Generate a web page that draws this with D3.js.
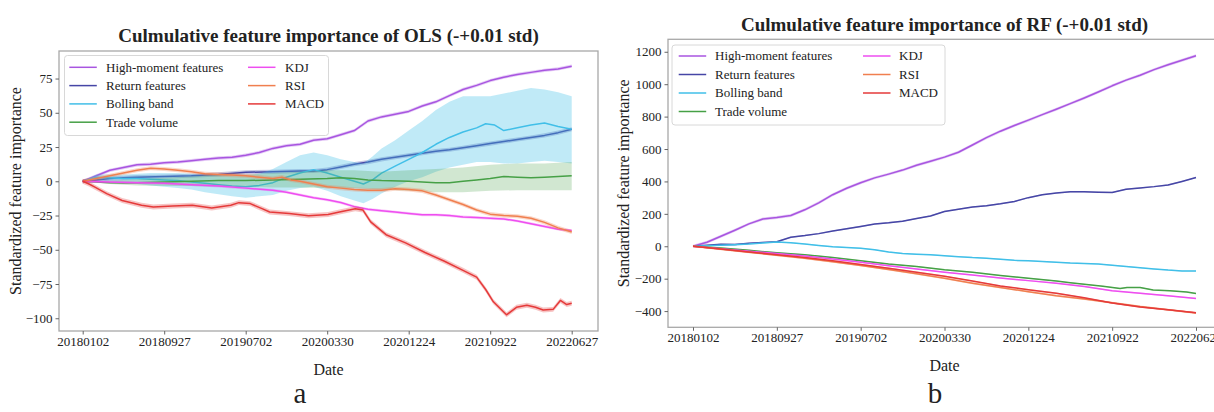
<!DOCTYPE html>
<html>
<head>
<meta charset="utf-8">
<script src="https://cdn.jsdelivr.net/npm/d3@7"></script>
<style>
  body { margin: 0; background: #fff; }
  svg { display: block; }
  text { font-family: "Liberation Serif", "Times New Roman", serif; fill: #222; }
</style>
</head>
<body>
<svg id="chart" width="1214" height="412"></svg>
<script>
// ---- shared axis / legend content ----
const dateTicks = ["20180102", "20180927", "20190702", "20200330", "20201224", "20210922", "20220627"];
const tickDay = [0, 180, 360, 540, 720, 900, 1080];   // trading-day index of each date tick
const seriesNames = ["High-moment features", "Return features", "Bolling band", "Trade volume", "KDJ", "RSI", "MACD"];
const seriesColors = ["#a855e0", "#4646a6", "#41bfe8", "#46a046", "#ee4ef0", "#f07f4f", "#e53a3a"];
const olsTicks = [-100, -75, -50, -25, 0, 25, 50, 75];
const rfTicks = [-400, -200, 0, 200, 400, 600, 800, 1000, 1200];

// ---- OLS cumulative importance: [day index, value] ----
const olsHighMoment = [[0,0],[30,4],[60,8],[90,10],[120,12],[150,12.5],[180,13.5],[210,14],[240,15],[270,16],[300,17],[330,17.5],[360,19],[390,21],[420,24],[450,26],[480,27],[510,30],[540,31],[570,34],[600,37],[630,44],[660,47],[690,49],[720,51],[750,55],[780,58],[810,62.5],[840,67],[870,70],[900,73.5],[930,76],[960,78],[990,79.5],[1020,81],[1050,82],[1080,84]];
const olsReturn = [[0,0],[30,1],[60,2],[90,2.5],[120,3],[180,3.5],[240,4],[300,5],[360,6.5],[420,7],[480,7.5],[510,7.5],[540,8.5],[570,10.5],[600,12.5],[630,14],[660,16],[690,17.5],[720,19],[750,20.5],[780,22],[810,23],[840,24.5],[870,26],[900,27.5],[930,29],[960,30.5],[990,32],[1020,33.5],[1050,35.5],[1080,38]];
const olsBolling = [[0,0],[30,3],[60,2.5],[90,2],[120,2],[150,1.5],[180,1],[210,0.5],[240,-0.5],[270,-1.5],[300,-2.5],[330,-3.5],[360,-4],[390,-3],[420,-1],[450,3],[480,6],[510,8.5],[540,6],[570,3],[600,0],[620,-2],[640,1],[660,6],[690,11],[720,16],[750,21],[780,27],[810,32],[840,36],[870,39],[890,42],[910,41],[930,37],[960,39],[990,41],[1020,42.5],[1050,40],[1080,38]];
const olsTrade = [[0,0],[30,-0.5],[60,-1],[90,-1.2],[120,-1],[180,-0.5],[240,0],[300,0.5],[360,0.5],[420,1],[480,1.5],[540,2],[570,2.5],[600,2],[630,1],[660,0.5],[720,0],[780,-1],[810,-1],[840,0],[870,1],[900,2],[930,3.5],[960,3],[990,2.5],[1020,3],[1050,3.5],[1080,4]];
const olsKDJ = [[0,0],[60,-0.5],[120,-1],[180,-1.5],[240,-2.5],[300,-3.5],[360,-5],[420,-6.5],[450,-8],[480,-10],[510,-12],[540,-13.5],[570,-15.5],[600,-18.5],[630,-20.5],[660,-21.5],[690,-22.5],[720,-23.5],[750,-24.5],[780,-24.5],[810,-25],[840,-26],[870,-26.5],[900,-27],[930,-27.5],[960,-29],[990,-31],[1020,-33],[1050,-35],[1080,-36]];
const olsRSI = [[0,0],[30,2],[60,4],[90,6],[120,8],[150,9.5],[180,9],[210,8],[240,7],[270,5.5],[300,5],[330,4.5],[360,4],[390,3],[420,2],[440,3],[460,1],[480,0],[510,-2],[540,-4],[570,-5],[600,-6],[630,-6.5],[660,-6.5],[690,-5.5],[720,-6],[750,-7],[780,-10],[810,-13.5],[840,-17],[870,-21],[900,-24],[930,-25],[960,-25.5],[990,-27],[1020,-30],[1050,-34],[1080,-37]];
const olsMACD = [[0,0],[14,-2],[27,-4.3],[53,-9],[87,-14],[130,-17.5],[156,-18.8],[199,-18],[242,-17.5],[285,-19.5],[327,-17.5],[345,-15.6],[370,-16.3],[396,-20],[413,-22.4],[456,-23.6],[499,-25.2],[542,-24.3],[567,-22.4],[602,-20],[619,-21],[636,-29.6],[670,-39],[713,-45],[756,-52],[799,-58.4],[840,-65],[870,-70],[890,-79],[907,-88],[936,-97.5],[958,-92],[981,-90.5],[1000,-92],[1017,-94],[1039,-93.5],[1055,-87],[1069,-90],[1080,-89]];
// wide std bands: [day index, lower, upper]
const olsBollingBand = [[0,0,0],[30,1,5],[60,0,5],[90,-1,5],[120,-2,5.5],[150,-3,6],[180,-4,6],[210,-5,6],[240,-6,5.5],[270,-8,5],[300,-9.5,4.5],[330,-11,4],[360,-12,4],[390,-11,5.5],[420,-10,9],[450,-7,14],[480,-5,19],[510,-4,21],[540,-7,19],[570,-11,16],[600,-14,14],[620,-16,13],[640,-13,18],[660,-9,24],[690,-4,30],[720,0,37],[750,3,44],[780,7,52],[810,10,58],[840,12,62],[870,14,62],[900,14,62],[930,13,64],[960,13,66],[990,14,68],[1020,15,67],[1050,14,65],[1080,13,62]];
const olsTradeBand = [[0,0,0],[60,-2,0.5],[120,-3,1.5],[180,-3.5,2.5],[240,-3.5,3.5],[300,-4,5],[360,-4,5],[420,-4.5,6],[480,-4.5,7],[540,-5,8],[600,-5,8],[660,-6,7],[720,-7,8],[780,-8,9],[840,-8,10],[900,-7,12],[960,-6.5,13],[1020,-6.5,13],[1080,-6.5,14]];
const olsBandHalf = [1.2, 1.5, 0, 0, 1.0, 1.5, 1.8];

// ---- RF cumulative importance: [day index, value] ----
const rfHighMoment = [[0,0],[30,25],[60,62],[90,99],[120,138],[150,168],[180,178],[210,190],[240,225],[270,268],[300,318],[330,358],[360,392],[390,422],[420,445],[450,470],[480,500],[510,525],[540,550],[570,580],[600,625],[630,670],[660,710],[690,745],[720,778],[750,812],[780,845],[810,880],[840,915],[870,952],[900,990],[930,1025],[960,1055],[990,1090],[1020,1120],[1050,1148],[1080,1175]];
const rfReturn = [[0,0],[30,6],[60,12],[90,11],[120,18],[150,24],[180,28],[210,56],[240,66],[270,78],[300,94],[330,108],[360,122],[390,137],[420,145],[450,155],[480,171],[510,187],[540,215],[570,229],[600,242],[630,250],[660,262],[690,276],[720,300],[750,318],[780,328],[810,336],[840,336],[870,334],[900,332],[930,352],[960,360],[990,368],[1020,378],[1050,400],[1080,424]];
const rfBolling = [[0,0],[30,3],[60,6],[90,10],[120,14],[150,20],[180,27],[210,22],[240,14],[270,5],[300,-3],[330,-8],[360,-12],[390,-22],[420,-35],[450,-45],[480,-49],[510,-53],[540,-58],[570,-64],[600,-70],[630,-74],[660,-80],[690,-87],[720,-90],[750,-94],[780,-98],[810,-103],[840,-106],[870,-110],[900,-117],[930,-125],[960,-132],[990,-140],[1020,-147],[1050,-152],[1080,-152]];
const rfTrade = [[0,0],[60,-10],[120,-25],[180,-40],[240,-52],[300,-70],[360,-90],[420,-110],[480,-125],[540,-145],[600,-160],[660,-180],[720,-197],[780,-215],[810,-225],[840,-235],[880,-246],[917,-260],[932,-254],[960,-255],[988,-270],[1024,-275],[1060,-282],[1080,-291]];
const rfKDJ = [[0,0],[60,-15],[120,-30],[180,-45],[240,-60],[300,-78],[360,-98],[420,-120],[480,-140],[540,-160],[600,-178],[660,-196],[720,-212],[780,-228],[840,-248],[900,-275],[960,-290],[1020,-306],[1080,-322]];
const rfRSI = [[0,0],[60,-18],[120,-37],[180,-55],[240,-74],[300,-95],[360,-118],[420,-143],[480,-170],[540,-198],[600,-228],[660,-255],[720,-280],[780,-305],[840,-325],[900,-348],[960,-372],[1020,-392],[1080,-412]];
const rfMACD = [[0,0],[60,-17],[120,-35],[180,-52],[240,-70],[300,-90],[360,-112],[420,-135],[480,-160],[540,-185],[600,-215],[660,-245],[720,-268],[780,-290],[840,-318],[900,-350],[960,-375],[1020,-392],[1080,-410]];
const rfBandHalf = [9, 4, 3, 3, 4, 6, 4];

const bandAlpha = [0.3, 0.3, 0.33, 0.25, 0.3, 0.3, 0.3];
const serif = "'Liberation Serif', 'Times New Roman', serif";

const svg = d3.select("#chart");
svg.append("rect").attr("width", 1214).attr("height", 412).attr("fill", "#fff");

function drawPanel(p) {
  const g = svg.append("g");
  const x = d3.scaleLinear().domain([0, 1080]).range(p.xRange);
  const y = d3.scaleLinear().domain(p.yDomain).range([p.frame.bottom, p.frame.top]);

  // std bands and mean curves
  p.curves.forEach((c, i) => {
    const col = seriesColors[i];
    const band = p.bands[i] || c.map(([d, v]) => [d, v - p.half[i], v + p.half[i]]);
    g.append("path")
      .attr("d", d3.area().x(d => x(d[0])).y0(d => y(d[1])).y1(d => y(d[2]))(band))
      .attr("fill", col).attr("fill-opacity", bandAlpha[i]).attr("stroke", "none");
    g.append("path")
      .attr("d", d3.line().x(d => x(d[0])).y(d => y(d[1]))(c))
      .attr("fill", "none").attr("stroke", col).attr("stroke-width", 1.5)
      .attr("stroke-linejoin", "round");
  });

  // frame
  g.append("rect")
    .attr("x", p.frame.left).attr("y", p.frame.top)
    .attr("width", p.frame.right - p.frame.left).attr("height", p.frame.bottom - p.frame.top)
    .attr("fill", "none").attr("stroke", "#a8a8a8").attr("stroke-width", 1.3);

  // axes
  const yAxis = g.append("g").attr("transform", `translate(${p.frame.left},0)`)
    .call(d3.axisLeft(y).tickValues(p.yTicks).tickFormat(d3.format("d")).tickSize(3.5).tickPadding(3));
  const xAxis = g.append("g").attr("transform", `translate(0,${p.frame.bottom})`)
    .call(d3.axisBottom(x).tickValues(tickDay).tickFormat((d, i) => dateTicks[i]).tickSize(3.5).tickPadding(2));
  [yAxis, xAxis].forEach(a => {
    a.attr("font-family", null).style("font-family", serif);
    a.select(".domain").remove();
    a.selectAll("line").attr("stroke", "#666");
    a.selectAll("text").attr("font-size", 13).attr("fill", "#222").style("font-family", serif);
  });

  const cx = (p.frame.left + p.frame.right) / 2;
  g.append("text").attr("x", cx).attr("y", p.titleY).attr("text-anchor", "middle")
    .attr("font-size", 19).attr("font-weight", "bold").attr("fill", "#111").text(p.title);
  g.append("text").attr("x", cx).attr("y", p.frame.bottom + 44).attr("text-anchor", "middle")
    .attr("font-size", 16).text("Date");
  g.append("text")
    .attr("transform", `translate(${p.yLabelX},${(p.frame.top + p.frame.bottom) / 2}) rotate(-90)`)
    .attr("text-anchor", "middle").attr("font-size", 16).text("Standardized feature importance");
  svg.append("text").attr("x", p.captionX).attr("y", 403).attr("text-anchor", "middle")
    .attr("font-size", 29).attr("fill", "#000").text(p.caption);

  // legend
  const L = p.legend;
  const lg = g.append("g");
  lg.append("rect").attr("x", L.x).attr("y", L.y).attr("width", L.w).attr("height", L.h)
    .attr("rx", 3).attr("fill", "#fff").attr("fill-opacity", 0.8)
    .attr("stroke", "#d8d8d8").attr("stroke-width", 1);
  seriesNames.forEach((name, i) => {
    const col = Math.floor(i / 4), row = i % 4;
    const yy = L.row0 + row * L.rowGap;
    const hx = L.x + L.handle[col];
    lg.append("line").attr("x1", hx).attr("x2", hx + L.handleLen).attr("y1", yy).attr("y2", yy)
      .attr("stroke", seriesColors[i]).attr("stroke-width", 1.5);
    lg.append("text").attr("x", L.x + L.label[col]).attr("y", yy).attr("dy", "0.34em")
      .attr("font-size", 13).text(name);
  });
}

drawPanel({
  title: "Culmulative feature importance of OLS (-+0.01 std)",
  frame: { left: 59, right: 598, top: 51, bottom: 331 },
  xRange: [82.7, 571.7],
  yDomain: [-109.3, 95.1],
  yTicks: olsTicks,
  curves: [olsHighMoment, olsReturn, olsBolling, olsTrade, olsKDJ, olsRSI, olsMACD],
  bands: [null, null, olsBollingBand, olsTradeBand, null, null, null],
  half: olsBandHalf,
  titleY: 42,
  yLabelX: 21,
  caption: "a", captionX: 300,
  legend: { x: 64.5, y: 55.5, w: 264, h: 80, row0: 67.3, rowGap: 18.3, handle: [4.8, 183.5], handleLen: 27.5, label: [41.5, 220.5] }
});

drawPanel({
  title: "Culmulative feature importance of RF (-+0.01 std)",
  frame: { left: 668, right: 1221, top: 39.3, bottom: 327.3 },
  xRange: [693, 1196],
  yDomain: [-500, 1277],
  yTicks: rfTicks,
  curves: [rfHighMoment, rfReturn, rfBolling, rfTrade, rfKDJ, rfRSI, rfMACD],
  bands: [null, null, null, null, null, null, null],
  half: rfBandHalf,
  titleY: 30.5,
  yLabelX: 629,
  caption: "b", captionX: 935,
  legend: { x: 672, y: 45, w: 273, h: 80, row0: 56, rowGap: 18.5, handle: [6.7, 191], handleLen: 27.5, label: [43, 227] }
});
</script>
</body>
</html>
